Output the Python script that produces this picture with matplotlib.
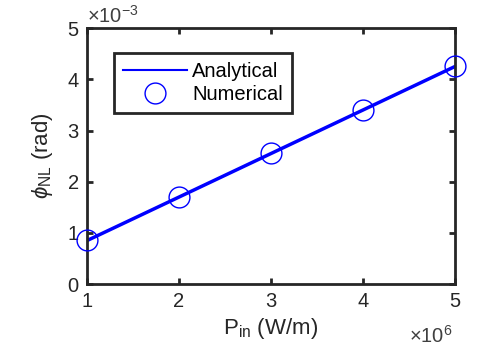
import matplotlib
matplotlib.use('Agg')
import matplotlib.pyplot as plt
import numpy as np
from matplotlib.lines import Line2D

# input power (x 1e6 W/m) and nonlinear phase (x 1e-3 rad)
p_in = [1, 2, 3, 4, 5]
phi_analytical = [0.85, 1.70, 2.55, 3.40, 4.25]
phi_numerical = [0.86, 1.71, 2.56, 3.41, 4.26]

plt.rcParams['font.family'] = 'Liberation Sans'
plt.rcParams['mathtext.fontset'] = 'custom'
plt.rcParams['mathtext.rm'] = 'Liberation Sans'
plt.rcParams['mathtext.it'] = 'Liberation Sans:italic'

fs = 14.5      # ticks, legend
fs_lab = 16    # axis labels
fig = plt.figure(figsize=(5.01, 3.56), dpi=100)
ax = fig.add_axes([0.1737, 0.202, 0.7343, 0.719])

ax.plot(p_in, phi_analytical, '-', color='#0000ff', linewidth=2.5, zorder=2)
ax.plot(p_in, phi_numerical, 'o', markerfacecolor='none', markeredgecolor='#0000ff',
        markersize=15, markeredgewidth=1.0, zorder=3, clip_on=False)

ax.set_xlim(1, 5)
ax.set_ylim(0, 5)
ax.set_xticks([1, 2, 3, 4, 5])
ax.set_yticks([0, 1, 2, 3, 4, 5])

edge = '#262626'
for s in ax.spines.values():
    s.set_linewidth(2.0)
    s.set_color(edge)
ax.tick_params(direction='in', length=4, width=2.0, color=edge, labelsize=fs,
               labelcolor=edge, top=True, right=True, pad=6)

ax.set_xlabel(r'P$_{\rm in}$ (W/m)', fontsize=fs_lab, color=edge, labelpad=3)
ax.set_ylabel(r'$\phi_{\rm NL}$ (rad)', fontsize=fs_lab, color=edge, labelpad=9)

ax.text(0.0, 1.005, r'$\times\mathregular{10^{-3}}$', transform=ax.transAxes,
        fontsize=fs, color='#404040', ha='left', va='bottom')
ax.text(0.995, -0.16, r'$\times\mathregular{10^{6}}$', transform=ax.transAxes,
        fontsize=fs, color='#404040', ha='right', va='top')

handles = [Line2D([], [], color='#0000ff', linewidth=1.5),
           Line2D([], [], linestyle='none', marker='o', markerfacecolor='none',
                  markeredgecolor='#0000ff', markersize=15, markeredgewidth=1.0)]
leg = ax.legend(handles, ['Analytical', 'Numerical'], loc='upper left',
                bbox_to_anchor=(0.073, 0.902), fontsize=fs, fancybox=False,
                framealpha=1, handlelength=3.2, handletextpad=0.25,
                borderpad=0.45, labelspacing=0.2, borderaxespad=0)
leg.get_frame().set_edgecolor(edge)
leg.get_frame().set_linewidth(2.0)

fig.savefig('out.png', dpi=100)
